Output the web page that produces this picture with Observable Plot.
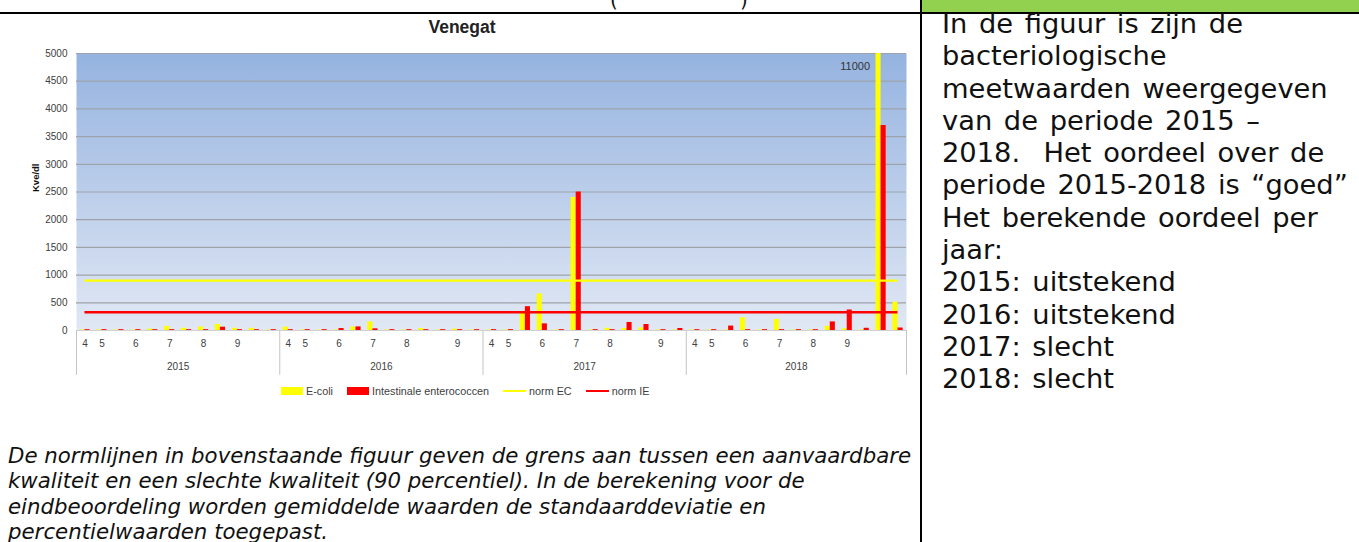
<!DOCTYPE html>
<html><head><meta charset="utf-8">
<script src="https://cdn.jsdelivr.net/npm/d3@7"></script>
<script src="https://cdn.jsdelivr.net/npm/@observablehq/plot@0.6"></script>
<style>
html,body{margin:0;padding:0;}
body{width:1359px;height:542px;overflow:hidden;background:#fff;position:relative;font-family:"DejaVu Sans",Verdana,sans-serif;}
.abs{position:absolute;}
#title{left:362px;width:200px;top:17px;text-align:center;font:bold 17.5px "Liberation Sans",Arial,sans-serif;color:#222;}
#chart{left:17px;top:44px;}
#legend{left:281px;top:385px;display:flex;align-items:center;font:10.8px "Liberation Sans",Arial,sans-serif;color:#404040;white-space:nowrap;}
#legend .sw{display:inline-block;width:22px;height:8px;margin-right:3px;}
#legend .ln{display:inline-block;width:23px;height:2.5px;margin-right:3px;}
#legend .it{display:flex;align-items:center;margin-right:14px;}
#caption{left:8px;top:443px;font-style:italic;font-size:21.3px;line-height:25.3px;color:#111;white-space:nowrap;}
#right{left:942px;top:8px;font-size:27.3px;line-height:32.3px;word-spacing:3px;color:#111;white-space:nowrap;}
</style></head><body>
<div class="abs" style="left:0;top:12px;width:921px;height:2px;background:#000"></div>
<div class="abs" style="left:922px;top:0;width:437px;height:12px;background:#92d050"></div>
<div class="abs" style="left:922px;top:12px;width:437px;height:2px;background:#000"></div>
<div class="abs" style="left:920px;top:0;width:2px;height:542px;background:#000"></div>
<div class="abs" style="left:610px;top:-12px;font-size:20px;color:#111">(</div>
<div class="abs" style="left:740px;top:-12px;font-size:20px;color:#111">)</div>
<div id="title" class="abs">Venegat</div>
<div id="chart" class="abs"></div>
<div id="legend" class="abs"></div>
<div id="caption" class="abs"></div>
<div id="right" class="abs"></div>
<script>
// ---- data ----
const years = ["2015", "2016", "2017", "2018"];
const samplesPerYear = [12, 12, 12, 13];
const monthLabels2015 = ["4","5","","6","","7","","8","","9","",""];
const monthLabels2016 = ["4","5","","6","","7","","8","","","9",""];
const monthLabels2017 = ["4","5","","6","","7","","8","","","9",""];
const monthLabels2018 = ["4","5","","6","","7","","8","","9","","",""];
const ecoli2015 = [8, 10, 8, 8, 25, 75, 40, 65, 110, 40, 40, 8];
const ecoli2016 = [60, 8, 8, 8, 65, 155, 8, 8, 35, 8, 25, 8];
const ecoli2017 = [8, 8, 310, 660, 8, 2400, 8, 40, 36, 48, 8, 8];
const ecoli2018 = [8, 8, 8, 230, 8, 200, 8, 8, 75, 30, 8, 11000, 510];
const entero2015 = [15, 15, 15, 15, 15, 15, 15, 15, 60, 15, 15, 15];
const entero2016 = [15, 15, 15, 35, 65, 30, 15, 15, 15, 15, 15, 15];
const entero2017 = [15, 15, 430, 120, 15, 2500, 15, 15, 145, 108, 15, 36];
const entero2018 = [15, 15, 80, 15, 15, 15, 15, 15, 155, 370, 40, 3700, 45];
const normEC = 900;
const normIE = 330;
const yTicks = [0, 500, 1000, 1500, 2000, 2500, 3000, 3500, 4000, 4500, 5000];
const seriesNames = ["E-coli", "Intestinale enterococcen", "norm EC", "norm IE"];
const colors = ["#ffff00", "#ff0000", "#ffff00", "#ff0000"];

const ecoli = [...ecoli2015, ...ecoli2016, ...ecoli2017, ...ecoli2018];
const entero = [...entero2015, ...entero2016, ...entero2017, ...entero2018];
const months = [...monthLabels2015, ...monthLabels2016, ...monthLabels2017, ...monthLabels2018];
const n = ecoli.length;
const cats = ecoli.map((v, i) => ({i, c: i + 0.5, ecoli: v, entero: entero[i], month: months[i]}));
let acc = 0;
const yearSeg = years.map((y, k) => { const s = acc; acc += samplesPerYear[k]; return {year: y, start: s, end: acc, mid: (s + acc) / 2}; });
const bounds = [0, ...yearSeg.map(d => d.end)];
const W = 0.3; // bar width in category units

const plot = Plot.plot({
  width: 904, height: 334,
  marginLeft: 59, marginRight: 15, marginTop: 9, marginBottom: 48,
  x: {type: "linear", domain: [0, n], axis: null},
  y: {domain: [0, 5000], axis: null},
  style: {fontFamily: "'Liberation Sans', Arial, sans-serif", fontSize: "10px", color: "#404040", background: "transparent"},
  marks: [
    Plot.frame({fill: "url(#bgGrad)", stroke: "none"}),
    Plot.ruleY(yTicks, {stroke: "#9ea3ab", strokeWidth: 1.2}),
    Plot.text(yTicks, {y: d => d, frameAnchor: "left", dx: -9, textAnchor: "end", text: d => String(d), fill: "#404040"}),
    Plot.text(["Kve/dl"], {frameAnchor: "left", dx: -41, rotate: -90, fontWeight: "bold", fontSize: 9.5, fill: "#111"}),
    Plot.ruleX(bounds, {x: d => d, y1: 0, y2: -810, stroke: "#c4c4c4", strokeWidth: 1}),
    Plot.ruleY([0], {stroke: "#d0d0d0"}),
    Plot.rect(cats, {x1: d => d.c - W, x2: d => d.c, y1: 0, y2: d => d.ecoli, fill: colors[0], clip: true}),
    Plot.rect(cats, {x1: d => d.c, x2: d => d.c + W, y1: 0, y2: d => d.entero, fill: colors[1], clip: true}),
    Plot.ruleY([normEC], {x1: cats[0].c, x2: cats[n - 1].c, stroke: colors[2], strokeWidth: 2.3}),
    Plot.ruleY([normIE], {x1: cats[0].c, x2: cats[n - 1].c, stroke: colors[3], strokeWidth: 2.6}),
    Plot.text(cats.filter(d => d.ecoli > 5000), {x: "c", y: 5000, dy: 13, dx: -11, textAnchor: "end", text: d => String(d.ecoli), fill: "#333", fontSize: 11}),
    Plot.text(cats, {x: "c", frameAnchor: "bottom", dy: 16, text: "month", fill: "#404040"}),
    Plot.text(yearSeg, {x: "mid", frameAnchor: "bottom", dy: 39, text: "year", fill: "#404040"})
  ]
});
const defs = d3.select(plot).insert("defs", ":first-child");
const g = defs.append("linearGradient").attr("id", "bgGrad").attr("x1", 0).attr("y1", 0).attr("x2", 0).attr("y2", 1);
g.append("stop").attr("offset", "0%").attr("stop-color", "#95b3e0");
g.append("stop").attr("offset", "100%").attr("stop-color", "#e1e8f4");
document.getElementById("chart").appendChild(plot);

// legend
const leg = document.getElementById("legend");
seriesNames.forEach((s, k) => {
  const it = document.createElement("span"); it.className = "it";
  const sw = document.createElement("span"); sw.className = k < 2 ? "sw" : "ln"; sw.style.background = colors[k];
  it.appendChild(sw); it.appendChild(document.createTextNode(s)); leg.appendChild(it);
});

const captionLines = [
  "De normlijnen in bovenstaande figuur geven de grens aan tussen een aanvaardbare",
  "kwaliteit en een slechte kwaliteit (90 percentiel). In de berekening voor de",
  "eindbeoordeling worden gemiddelde waarden de standaarddeviatie en",
  "percentielwaarden toegepast."
];
document.getElementById("caption").innerHTML = captionLines.map(t => `<div>${t}</div>`).join("");
const rightLines = [
  "In de figuur is zijn de", "bacteriologische", "meetwaarden weergegeven", "van de periode 2015 –",
  "2018.&nbsp; Het oordeel over de", "periode 2015-2018 is “goed”", "Het berekende oordeel per", "jaar:",
  "2015: uitstekend", "2016: uitstekend", "2017: slecht", "2018: slecht"
];
document.getElementById("right").innerHTML = rightLines.map(t => `<div>${t}</div>`).join("");
</script>
</body></html>
